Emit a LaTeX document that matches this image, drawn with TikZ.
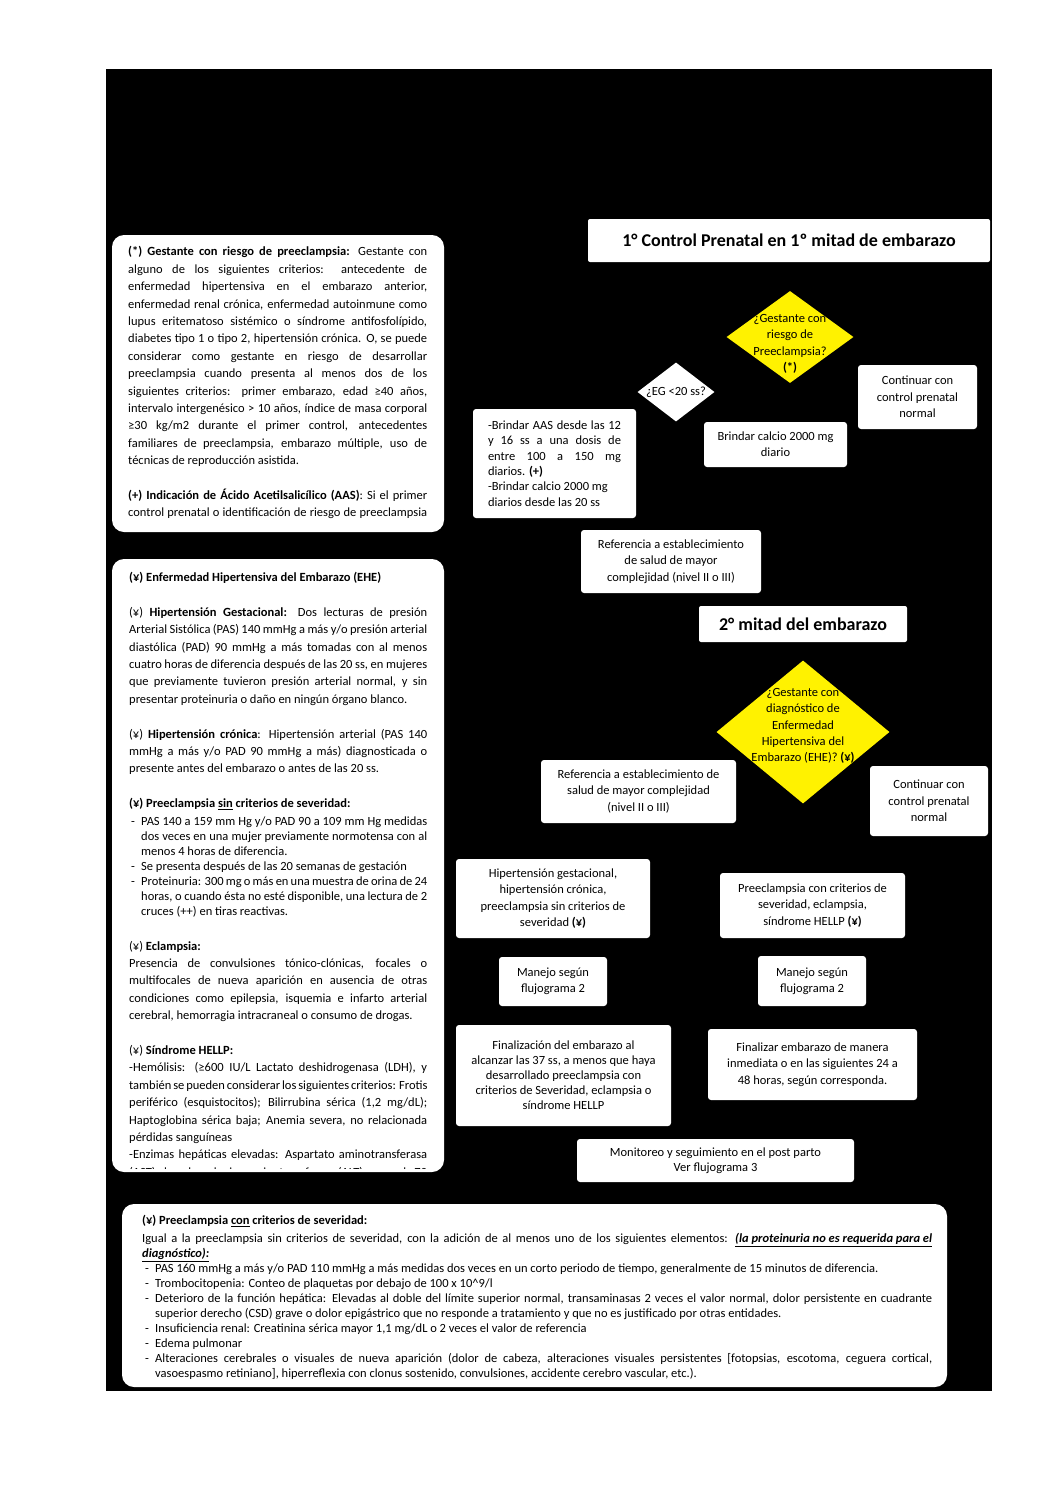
\documentclass[tikz,border=0pt]{standalone}
\usepackage{fontspec}
\setmainfont{Carlito}
\usetikzlibrary{shapes.geometric}
\setlength{\parindent}{0pt}
% font sizes
\newcommand{\fs}{\fontsize{12.5}{16.3}\selectfont}
\newcommand{\fsnote}{\fontsize{12.5}{17.4}\selectfont}
\newcommand{\fslist}{\fontsize{12.5}{15}\selectfont}
% list dashes
\newcommand{\guion}{\hangindent=12pt\hangafter=1\makebox[12pt][l]{\hspace{2pt}-}}
\newcommand{\guionb}{\hangindent=13pt\hangafter=1\makebox[13pt][l]{\hspace{3pt}-}}

\begin{document}
\begin{tikzpicture}[x=1pt, y=-1pt, every node/.style={font=\fs},
	box/.style={fill=white, rounded corners=3pt, align=center, inner sep=0pt},
	note/.style={fill=white, rounded corners=12pt, inner sep=0pt},
	decision/.style={diamond, fill=yellow, inner sep=0pt},
	notetext/.style={anchor=north west, inner sep=0pt, align=justify, font=\fsnote},
	titlebox/.style={box, rounded corners=2pt, font=\bfseries\fontsize{18}{21}\selectfont}]
	\fill[white] (0,0) rectangle (1059,1496);
	\useasboundingbox (0,0) rectangle (1059,1496);
	\fill[black] (106,69) rectangle (992,1391);

	% notes on the left
	\node[note, minimum width=332, minimum height=297] (def1) at (278,383.5) {};
	\begin{scope}
		\clip (112,235) rectangle (444,526);
		\node[notetext, text width=299] (def1txt) at (128,246.5) {%
			\textbf{(*) Gestante con riesgo de preeclampsia:} Gestante con\linebreak
			alguno de los siguientes criterios: antecedente de\linebreak
			enfermedad hipertensiva en el embarazo anterior,\linebreak
			enfermedad renal crónica, enfermedad autoinmune como\linebreak
			lupus eritematoso sistémico o síndrome antifosfolípido,\linebreak
			diabetes tipo 1 o tipo 2, hipertensión crónica. O, se puede\linebreak
			considerar como gestante en riesgo de desarrollar\linebreak
			preeclampsia cuando presenta al menos dos de los\linebreak
			siguientes criterios: primer embarazo, edad ≥40 años,\linebreak
			intervalo intergenésico > 10 años, índice de masa corporal\linebreak
			≥30 kg/m2 durante el primer control, antecedentes\linebreak
			familiares de preeclampsia, embarazo múltiple, uso de\linebreak
			técnicas de reproducción asistida.\par
			\vspace{17.4pt}
			{\parfillskip=0pt \textbf{(+) Indicación de Ácido Acetilsalicílico (AAS)}: Si el primer\linebreak
			control prenatal o identificación de riesgo de preeclampsia\par}};
	\end{scope}

	\node[note, minimum width=332, minimum height=613] (def2) at (278,865.5) {};
	\begin{scope}
		\clip (112,559) rectangle (444,1168);
		\node[notetext, text width=298] (def2txt) at (129,572) {%
			\textbf{(¥) Enfermedad Hipertensiva del Embarazo (EHE)}\par
			\vspace{17.4pt}
			(¥) \textbf{Hipertensión Gestacional:} Dos lecturas de presión\linebreak
			Arterial Sistólica (PAS) 140 mmHg a más y/o presión arterial\linebreak
			diastólica (PAD) 90 mmHg a más tomadas con al menos\linebreak
			cuatro horas de diferencia después de las 20 ss, en mujeres\linebreak
			que previamente tuvieron presión arterial normal, y sin\linebreak
			presentar proteinuria o daño en ningún órgano blanco.\par
			\vspace{17.4pt}
			(¥) \textbf{Hipertensión crónica}: Hipertensión arterial (PAS 140\linebreak
			mmHg a más y/o PAD 90 mmHg a más) diagnosticada o\linebreak
			presente antes del embarazo o antes de las 20 ss.\par
			\vspace{17.4pt}
			\textbf{(¥) Preeclampsia \underline{sin} criterios de severidad:}\par
			\vspace{3pt}
			{\fslist
			\guion PAS 140 a 159 mm Hg y/o PAD 90 a 109 mm Hg medidas\linebreak
			dos veces en una mujer previamente normotensa con al\linebreak
			menos 4 horas de diferencia.\par
			\guion Se presenta después de las 20 semanas de gestación\par
			\guion Proteinuria: 300 mg o más en una muestra de orina de 24\linebreak
			horas, o cuando ésta no esté disponible, una lectura de 2\linebreak
			cruces (++) en tiras reactivas.\par}
			\vspace{17pt}
			(¥) \textbf{Eclampsia:}\par
			Presencia de convulsiones tónico-clónicas, focales o\linebreak
			multifocales de nueva aparición en ausencia de otras\linebreak
			condiciones como epilepsia, isquemia e infarto arterial\linebreak
			cerebral, hemorragia intracraneal o consumo de drogas.\par
			\vspace{17.4pt}
			(¥) \textbf{Síndrome HELLP:}\par
			-Hemólisis: (≥600 IU/L Lactato deshidrogenasa (LDH), y\linebreak
			\makebox[\linewidth][s]{también se pueden considerar los siguientes criterios: Frotis}\linebreak
			periférico (esquistocitos); Bilirrubina sérica (1,2 mg/dL);\linebreak
			Haptoglobina sérica baja; Anemia severa, no relacionada\linebreak
			pérdidas sanguíneas\par
			{\parfillskip=0pt -Enzimas hepáticas elevadas: Aspartato aminotransferasa\linebreak
			(AST) elevada o alanino aminotransferasa (ALT) mayor de 70\par}};
	\end{scope}

	% note at the bottom
	\node[note, minimum width=825, minimum height=183] (def3) at (534.5,1295.5) {};
	\node[notetext, text width=790, font=\fslist] (def3txt) at (142,1215) {%
		\textbf{(¥) Preeclampsia \underline{con} criterios de severidad:}\par
		\vspace{3pt}
		Igual a la preeclampsia sin criterios de severidad, con la adición de al menos uno de los siguientes elementos: \textbf{\textit{\underline{(la proteinuria no es requerida para el}}}\linebreak
		\textbf{\textit{\underline{diagnóstico):}}}\par
		\guionb PAS 160 mmHg a más y/o PAD 110 mmHg a más medidas dos veces en un corto periodo de tiempo, generalmente de 15 minutos de diferencia.\par
		\guionb Trombocitopenia: Conteo de plaquetas por debajo de 100 x 10\textasciicircum 9/l\par
		\guionb Deterioro de la función hepática: Elevadas al doble del límite superior normal, transaminasas 2 veces el valor normal, dolor persistente en cuadrante\linebreak
		superior derecho (CSD) grave o dolor epigástrico que no responde a tratamiento y que no es justificado por otras entidades.\par
		\guionb Insuficiencia renal: Creatinina sérica mayor 1,1 mg/dL o 2 veces el valor de referencia\par
		\guionb Edema pulmonar\par
		\guionb Alteraciones cerebrales o visuales de nueva aparición (dolor de cabeza, alteraciones visuales persistentes [fotopsias, escotoma, ceguera cortical,\linebreak
		vasoespasmo retiniano], hiperreflexia con clonus sostenido, convulsiones, accidente cerebro vascular, etc.).\par};

	% first half of pregnancy
	\node[titlebox, minimum width=402, minimum height=43] (mitad1) at (789,240.5) {1° Control Prenatal en 1º mitad de embarazo};
	\node[decision, minimum width=127, minimum height=92] (riesgo) at (790,337) {};
	\node[align=center, inner sep=0pt] (riesgotxt) at (790,344) {¿Gestante con\\riesgo de\\Preeclampsia?\\\textbf{(*)}};
	\node[diamond, fill=white, inner sep=0pt, minimum width=77, minimum height=59] (eg) at (676,392) {};
	\node[inner sep=0pt] (egtxt) at (eg) {¿EG <20 ss?};
	\node[box, minimum width=119, minimum height=64] (normal1) at (917.5,397) {Continuar con\\control prenatal\\normal};
	\node[box, minimum width=143, minimum height=45] (calcio) at (775.5,444.5) {Brindar calcio 2000 mg\\diario};
	\node[box, align=justify, text width=133, inner xsep=15pt, minimum height=109, font=\fontsize{12.5}{15.3}\selectfont] (aas) at (554.5,463.5) {-Brindar AAS desde las 12\linebreak y 16 ss a una dosis de\linebreak entre 100 a 150 mg\linebreak diarios. \textbf{(+)}\\-Brindar calcio 2000 mg\\diarios desde las 20 ss};
	\node[box, minimum width=180, minimum height=63] (ref1) at (671,561.5) {Referencia a establecimiento\\de salud de mayor\\complejidad (nivel II o III)};

	% second half of pregnancy
	\node[titlebox, minimum width=208, minimum height=36] (mitad2) at (803,624) {2° mitad del embarazo};
	\node[decision, minimum width=173, minimum height=143] (ehe) at (803,732) {};
	\node[align=center, inner sep=0pt] (ehetxt) at (803,726) {¿Gestante con\\diagnóstico de\\Enfermedad\\Hipertensiva del\\Embarazo (EHE)? \textbf{(¥)}};
	\node[box, minimum width=195, minimum height=63] (ref2) at (638.5,791.5) {Referencia a establecimiento de\\salud de mayor complejidad\\(nivel II o III)};
	\node[box, minimum width=118, minimum height=70] (normal2) at (929,801) {Continuar con\\control prenatal\\normal};
	\node[box, minimum width=194, minimum height=79] (leve) at (553,898.5) {Hipertensión gestacional,\\hipertensión crónica,\\preeclampsia sin criterios de\\severidad \textbf{(¥)}};
	\node[box, minimum width=185, minimum height=65] (severa) at (812.5,905.5) {Preeclampsia con criterios de\\severidad, eclampsia,\\síndrome HELLP \textbf{(¥)}};
	\node[box, minimum width=108, minimum height=49] (manejo1) at (553,981.5) {Manejo según\\flujograma 2};
	\node[box, minimum width=108, minimum height=50] (manejo2) at (812,981) {Manejo según\\flujograma 2};
	\node[box, minimum width=215, minimum height=101, font=\fslist] (fin1) at (563.5,1075.5) {Finalización del embarazo al\\alcanzar las 37 ss, a menos que haya\\desarrollado preeclampsia con\\criterios de Severidad, eclampsia o\\síndrome HELLP};
	\node[box, minimum width=209, minimum height=71] (fin2) at (812.5,1064.5) {Finalizar embarazo de manera\\inmediata o en las siguientes 24 a\\48 horas, según corresponda.};
	\node[box, minimum width=277, minimum height=43, font=\fslist] (postparto) at (715.5,1160.5) {Monitoreo y seguimiento en el post parto\\Ver flujograma 3};
\end{tikzpicture}
\end{document}
